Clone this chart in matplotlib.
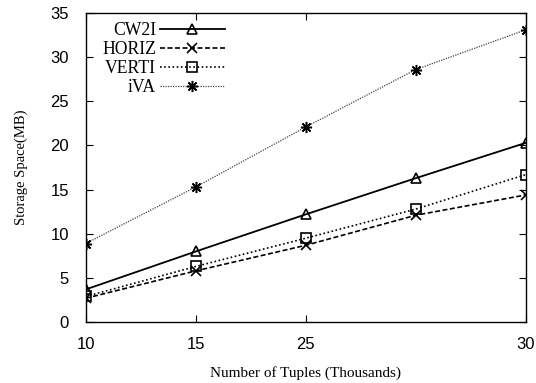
import matplotlib
matplotlib.use("Agg")
import matplotlib.pyplot as plt

# Data (categorical x positions 0..4)
x_pos = [0, 1, 2, 3, 4]
tick_pos = [0, 1, 2, 4]
tick_labels = ["10", "15", "25", "30"]

cw2i = [3.7, 8.0, 12.2, 16.3, 20.3]
horiz = [2.7, 5.8, 8.7, 12.1, 14.4]
verti = [2.9, 6.3, 9.5, 12.8, 16.7]
iva = [8.9, 15.3, 22.1, 28.6, 33.1]

fig = plt.figure(figsize=(5.36, 3.83), dpi=100)
ax = fig.add_axes([0.160, 0.159, 0.821, 0.807])

ms = 7
ax.plot(x_pos, cw2i, color="black", lw=1.3, ls="-", marker="^", ms=ms,
        mfc="none", mew=1.2, label="CW2I")
ax.plot(x_pos, horiz, color="black", lw=1.2, ls=(0, (3, 1.5)), marker="x", ms=ms,
        mew=1.2, label="HORIZ")
ax.plot(x_pos, verti, color="black", lw=1.2, ls=(0, (1, 1.5)), marker="s", ms=ms,
        mfc="none", mew=1.2, label="VERTI")
ax.plot(x_pos, iva, color="#444444", lw=0.9, ls=(0, (1, 1)), marker=(8, 2, 0), ms=ms + 1,
        mec="black", mew=1.1, label="iVA")

ax.set_xlim(0, 4)
ax.set_ylim(0, 35)
ax.set_xticks(tick_pos)
ax.set_xticklabels(tick_labels)
ax.set_yticks(range(0, 36, 5))
ax.tick_params(direction="in", length=5, width=0.8, top=True, right=True,
               labelsize=12)
ax.tick_params(axis="x", pad=11)
ax.tick_params(axis="y", pad=12)
for lab in ax.get_xticklabels() + ax.get_yticklabels():
    lab.set_fontfamily("Liberation Sans")
for s in ax.spines.values():
    s.set_linewidth(1.0)

ax.set_xlabel("Number of Tuples (Thousands)", fontfamily="Liberation Serif",
              fontsize=11, labelpad=10)
ax.set_ylabel("Storage Space(MB)", fontfamily="Liberation Serif",
              fontsize=10.5, labelpad=16)

leg = ax.legend(loc="upper right", markerfirst=False, numpoints=1, frameon=False,
                prop={"family": "Liberation Serif", "size": 12.7},
                handlelength=3.7, handletextpad=0.2, labelspacing=0.12,
                borderpad=0, borderaxespad=0, bbox_to_anchor=(0.316, 0.971))

fig.savefig("out.png", dpi=100)
